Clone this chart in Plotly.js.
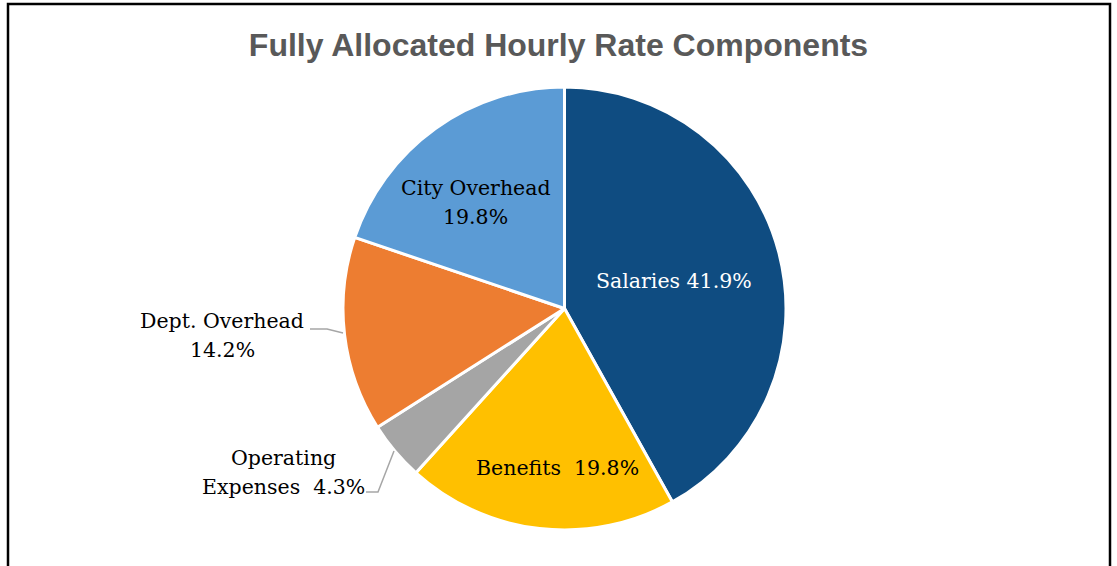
<!DOCTYPE html>
<html><head><meta charset="utf-8">
<script src="https://cdn.plot.ly/plotly-3.0.1.min.js"></script>
<style>html,body{margin:0;padding:0;background:#fff}#chart{width:1117px;height:566px}</style>
</head><body><div id="chart"></div>
<script>
const categories = ["Salaries", "Benefits", "Operating Expenses", "Dept. Overhead", "City Overhead"];
const values = [41.9, 19.8, 4.3, 14.2, 19.8];
const colors = ["#0F4C81", "#FFC000", "#A5A5A5", "#ED7D31", "#5B9BD5"];
const labelTexts = ["Salaries 41.9%", "Benefits  19.8%", "Operating<br>Expenses  4.3%", "Dept. Overhead<br>14.2%", "City Overhead<br>19.8%"];
const labelColors = ["#FFFFFF", "#000000", "#000000", "#000000", "#000000"];

const W = 1117, H = 566;
const px = x => x / W, py = y => 1 - y / H;
const labelPos = [[674, 281], [557, 468], [283, 472], [222, 335.5], [476, 202.5]];
const lineGap = 29;

const annotations = [];
categories.forEach((c, i) => {
  const lines = labelTexts[i].split('<br>');
  lines.forEach((ln, k) => {
    const yc = labelPos[i][1] + (k - (lines.length - 1) / 2) * lineGap;
    annotations.push({
      xref: 'paper', yref: 'paper', x: px(labelPos[i][0]), y: py(yc),
      text: ln, showarrow: false, xanchor: 'center', yanchor: 'middle',
      font: {family: 'DejaVu Serif, serif', size: 20.5, color: labelColors[i]}, align: 'center'
    });
  });
});

const leader = (pts) => ({
  type: 'path', xref: 'paper', yref: 'paper',
  path: pts.map((p, k) => (k ? 'L' : 'M') + px(p[0]) + ',' + py(p[1])).join(' '),
  line: {color: '#A6A6A6', width: 1.5}
});

const data = [{
  type: 'pie', labels: categories, values: values, sort: false, direction: 'clockwise', rotation: 0,
  marker: {colors: colors, line: {color: '#FFFFFF', width: 3}},
  textinfo: 'none', hoverinfo: 'label+percent', showlegend: false,
  domain: {x: [343 / W, 786 / W], y: [1 - 530 / H, 1 - 87 / H]}
}];

const layout = {
  width: W, height: H, margin: {l: 0, r: 0, t: 0, b: 0},
  paper_bgcolor: '#FFFFFF', plot_bgcolor: '#FFFFFF',
  title: {text: '<b>Fully Allocated Hourly Rate Components</b>', x: 0.5, xanchor: 'center', y: py(45), yanchor: 'middle',
    font: {family: 'Liberation Sans, Arial, sans-serif', size: 32, color: '#595959'}},
  annotations: annotations,
  shapes: [
    {type: 'rect', xref: 'paper', yref: 'paper', x0: px(8), x1: px(1110), y0: -0.2, y1: py(4), line: {color: '#000000', width: 2.5}},
    leader([[310, 329], [327, 329], [343, 333]]),
    leader([[366, 492], [378, 492], [394, 451]])
  ]
};

Plotly.newPlot('chart', data, layout, {displayModeBar: false, staticPlot: true});
</script></body></html>
